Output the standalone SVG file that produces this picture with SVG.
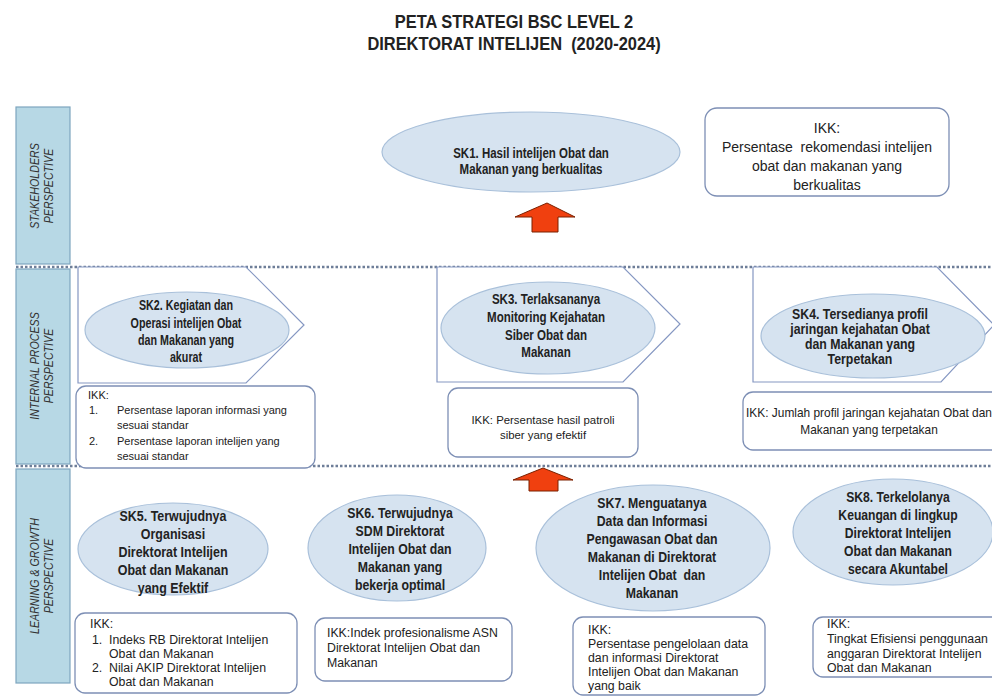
<svg xmlns="http://www.w3.org/2000/svg" width="992" height="696" viewBox="0 0 992 696">
<style>
.title{font-family:"Liberation Sans",Arial,sans-serif;font-weight:bold;font-size:19px;fill:#222;text-anchor:middle}
.persp{fill:#b7d8e5;stroke:#7ea6bf;stroke-width:1.2}
.plab{font-family:"Liberation Sans",Arial,sans-serif;font-style:italic;font-size:13px;fill:#333;text-anchor:middle}
.sep{stroke:#6e7e98;stroke-width:2.5;stroke-dasharray:2.5 2;fill:none}
.ell{fill:#d6e3f0;stroke:#a9c0da;stroke-width:1.2}
.pent{fill:#fff;stroke:#8597c2;stroke-width:1.2}
.box{fill:#fff;stroke:#7d8fb5;stroke-width:1.3}
.sk{font-family:"Liberation Sans",Arial,sans-serif;font-weight:bold;font-size:15px;fill:#222;text-anchor:middle}
.sk14{font-size:14px}
.ikk{font-family:"Liberation Sans",Arial,sans-serif;font-size:12.3px;fill:#222}
.ikks{font-size:11.4px}
.mid{text-anchor:middle}
.arr{fill:#f0400f;stroke:#7a2000;stroke-width:1}
</style>
<rect width="992" height="696" fill="#fff"/>
<g id="title" transform="translate(514,0) scale(0.865,1)">
<text class="title" x="0" y="28">PETA STRATEGI BSC LEVEL 2</text>
<text class="title" x="0" y="50" xml:space="preserve">DIREKTORAT INTELIJEN  (2020-2024)</text>
</g>
<g id="separators">
<line class="sep" x1="16" y1="267" x2="992" y2="267"/>
<line class="sep" x1="16" y1="466" x2="992" y2="466"/>
</g>
<g id="perspective-stakeholders">
<rect class="persp" x="16" y="107" width="54" height="157"/>
<text class="plab" transform="translate(39,186) rotate(-90) scale(0.82,1)">STAKEHOLDERS</text>
<text class="plab" transform="translate(53,186) rotate(-90) scale(0.82,1)">PERSPECTIVE</text>
</g>
<g id="perspective-internal">
<rect class="persp" x="16" y="269" width="54" height="195"/>
<text class="plab" transform="translate(39,366) rotate(-90) scale(0.82,1)">INTERNAL PROCESS</text>
<text class="plab" transform="translate(53,366) rotate(-90) scale(0.82,1)">PERSPECTIVE</text>
</g>
<g id="perspective-learning">
<rect class="persp" x="16" y="469" width="54" height="214"/>
<text class="plab" transform="translate(39,576) rotate(-90) scale(0.82,1)">LEARNING &amp; GROWTH</text>
<text class="plab" transform="translate(53,576) rotate(-90) scale(0.82,1)">PERSPECTIVE</text>
</g>
<g id="sk1">
<ellipse class="ell" cx="531" cy="152" rx="149" ry="40"/>
<g transform="translate(531,0) scale(0.82,1)">
<text class="sk sk14" x="0" y="158">SK1. Hasil intelijen Obat dan</text>
<text class="sk sk14" x="0" y="174">Makanan yang berkualitas</text>
</g>
</g>
<g id="ikk-sk1">
<rect class="box" x="705" y="108" width="244" height="88" rx="12"/>
<text class="ikk mid" x="827" y="133" style="font-size:14px">IKK:</text>
<text class="ikk mid" x="827" y="152" style="font-size:14px" xml:space="preserve">Persentase  rekomendasi intelijen</text>
<text class="ikk mid" x="827" y="171" style="font-size:14px">obat dan makanan yang</text>
<text class="ikk mid" x="827" y="190" style="font-size:14px">berkualitas</text>
</g>
<g id="sk2">
<polygon class="pent" points="78,267 246,267 304,325 246,383 78,383"/>
<ellipse class="ell" cx="187" cy="330" rx="102" ry="38"/>
<g transform="translate(186,0) scale(0.74,1)">
<text class="sk" x="0" y="310" style="font-size:14.5px">SK2. Kegiatan dan</text>
<text class="sk" x="0" y="328" style="font-size:14.5px">Operasi intelijen Obat</text>
<text class="sk" x="0" y="345" style="font-size:14.5px">dan Makanan yang</text>
<text class="sk" x="0" y="362" style="font-size:14.5px">akurat</text>
</g>
</g>
<g id="ikk-sk2">
<rect class="box" x="76" y="386" width="239" height="82" rx="10"/>
<text class="ikk" x="88" y="399" style="font-size:11px">IKK:</text>
<text class="ikk" x="89" y="414" style="font-size:11px">1.</text>
<text class="ikk" x="117" y="414" style="font-size:11px">Persentase laporan informasi yang</text>
<text class="ikk" x="117" y="429" style="font-size:11px">sesuai standar</text>
<text class="ikk" x="89" y="445" style="font-size:11px">2.</text>
<text class="ikk" x="117" y="445" style="font-size:11px">Persentase laporan intelijen yang</text>
<text class="ikk" x="117" y="460" style="font-size:11px">sesuai standar</text>
</g>
<g id="sk3">
<polygon class="pent" points="437,267 623,267 680,324 623,382 437,382"/>
<ellipse class="ell" cx="548" cy="328" rx="107" ry="46"/>
<g transform="translate(546,0) scale(0.77,1)">
<text class="sk" x="0" y="304">SK3. Terlaksananya</text>
<text class="sk" x="0" y="322">Monitoring Kejahatan</text>
<text class="sk" x="0" y="340">Siber Obat dan</text>
<text class="sk" x="0" y="357">Makanan</text>
</g>
</g>
<g id="ikk-sk3">
<rect class="box" x="448" y="388" width="190" height="69" rx="10"/>
<text class="ikk ikks mid" x="543" y="424">IKK: Persentase hasil patroli</text>
<text class="ikk ikks mid" x="543" y="439">siber yang efektif</text>
</g>
<g id="sk4">
<polygon class="pent" points="753,267 937,267 994,325 941,382 753,382"/>
<ellipse class="ell" cx="873" cy="336" rx="112" ry="42"/>
<g transform="translate(860,0) scale(0.88,1)">
<text class="sk sk14" x="0" y="319">SK4. Tersedianya profil</text>
<text class="sk sk14" x="0" y="334">jaringan kejahatan Obat</text>
<text class="sk sk14" x="0" y="349">dan Makanan yang</text>
<text class="sk sk14" x="0" y="364">Terpetakan</text>
</g>
</g>
<g id="ikk-sk4">
<rect class="box" x="743" y="392" width="262" height="58" rx="10"/>
<text class="ikk mid" x="869" y="417" style="font-size:11.9px">IKK: Jumlah profil jaringan kejahatan Obat dan</text>
<text class="ikk mid" x="869" y="434" style="font-size:11.9px">Makanan yang terpetakan</text>
</g>
<g id="sk5">
<ellipse class="ell" cx="173" cy="549" rx="95" ry="46"/>
<g transform="translate(173,0) scale(0.83,1)">
<text class="sk" x="0" y="521">SK5. Terwujudnya</text>
<text class="sk" x="0" y="539">Organisasi</text>
<text class="sk" x="0" y="557">Direktorat Intelijen</text>
<text class="sk" x="0" y="575">Obat dan Makanan</text>
<text class="sk" x="0" y="593">yang Efektif</text>
</g>
</g>
<g id="ikk-sk5">
<rect class="box" x="75" y="613" width="222" height="80" rx="10"/>
<text class="ikk" x="90" y="628">IKK:</text>
<text class="ikk" x="92" y="644">1.</text>
<text class="ikk" x="109" y="644">Indeks RB Direktorat Intelijen</text>
<text class="ikk" x="109" y="658">Obat dan Makanan</text>
<text class="ikk" x="92" y="672">2.</text>
<text class="ikk" x="109" y="672">Nilai AKIP Direktorat Intelijen</text>
<text class="ikk" x="109" y="686">Obat dan Makanan</text>
</g>
<g id="sk6">
<ellipse class="ell" cx="397" cy="548" rx="89" ry="53"/>
<g transform="translate(400,0) scale(0.82,1)">
<text class="sk" x="0" y="518">SK6. Terwujudnya</text>
<text class="sk" x="0" y="536">SDM Direktorat</text>
<text class="sk" x="0" y="554">Intelijen Obat dan</text>
<text class="sk" x="0" y="572">Makanan yang</text>
<text class="sk" x="0" y="590">bekerja optimal</text>
</g>
</g>
<g id="ikk-sk6">
<rect class="box" x="315" y="618" width="197" height="63" rx="10"/>
<text class="ikk" x="327" y="637">IKK:Indek profesionalisme ASN</text>
<text class="ikk" x="327" y="652">Direktorat Intelijen Obat dan</text>
<text class="ikk" x="327" y="667">Makanan</text>
</g>
<g id="sk7">
<ellipse class="ell" cx="653" cy="548" rx="117" ry="63"/>
<g transform="translate(652,0) scale(0.82,1)">
<text class="sk" x="0" y="508">SK7. Menguatanya</text>
<text class="sk" x="0" y="526">Data dan Informasi</text>
<text class="sk" x="0" y="544">Pengawasan Obat dan</text>
<text class="sk" x="0" y="562">Makanan di Direktorat</text>
<text class="sk" x="0" y="580" xml:space="preserve">Intelijen Obat  dan</text>
<text class="sk" x="0" y="598">Makanan</text>
</g>
</g>
<g id="ikk-sk7">
<rect class="box" x="573" y="617" width="192" height="78" rx="10"/>
<text class="ikk" x="588" y="634">IKK:</text>
<text class="ikk" x="588" y="648">Persentase pengelolaan data</text>
<text class="ikk" x="588" y="662">dan informasi Direktorat</text>
<text class="ikk" x="588" y="676">Intelijen Obat dan Makanan</text>
<text class="ikk" x="588" y="690">yang baik</text>
</g>
<g id="sk8">
<ellipse class="ell" cx="893" cy="532" rx="100" ry="53"/>
<g transform="translate(898,0) scale(0.81,1)">
<text class="sk" x="0" y="502">SK8. Terkelolanya</text>
<text class="sk" x="0" y="520">Keuangan di lingkup</text>
<text class="sk" x="0" y="538">Direktorat Intelijen</text>
<text class="sk" x="0" y="556">Obat dan Makanan</text>
<text class="sk" x="0" y="574">secara Akuntabel</text>
</g>
</g>
<g id="ikk-sk8">
<rect class="box" x="813" y="617" width="195" height="60" rx="10"/>
<text class="ikk" x="827" y="628">IKK:</text>
<text class="ikk" x="827" y="643">Tingkat Efisiensi penggunaan</text>
<text class="ikk" x="827" y="658">anggaran Direktorat Intelijen</text>
<text class="ikk" x="827" y="672">Obat dan Makanan</text>
</g>
<g id="connectors">
<polygon class="arr" points="547,203 575,217 558,217 558,232 532,232 532,217 515,217"/>
<polygon class="arr" points="543,468 573,480 558,480 558,491 529,491 529,480 513,480"/>
</g>
</svg>
